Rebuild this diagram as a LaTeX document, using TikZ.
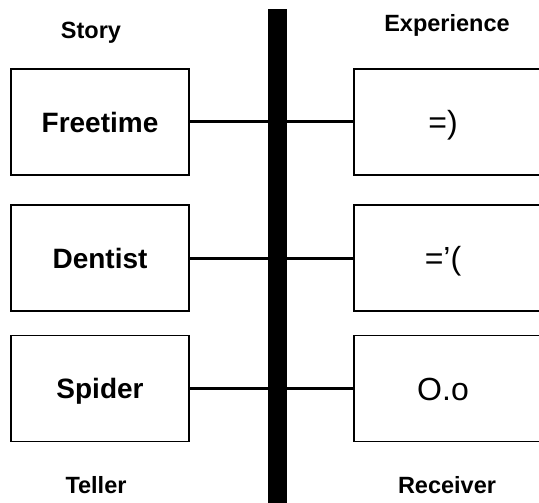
\documentclass[tikz,border=0pt]{standalone}
\usepackage{fontspec}
\setmainfont{Liberation Sans}
\begin{document}
\begin{tikzpicture}[x=1pt,y=-1pt,
  storybox/.style={draw=black,line width=1.5pt,minimum width=178pt,minimum height=106pt,
    inner sep=0pt,font=\fontsize{28}{30}\selectfont\bfseries,text height=20pt,text depth=0pt},
  expbox/.style={draw=black,line width=1.5pt,minimum width=191pt,minimum height=106pt,inner sep=0pt},
  exptext/.style={font=\fontsize{32}{36}\selectfont,inner sep=0pt,text height=23pt,text depth=0pt},
  heading/.style={font=\fontsize{23.5}{26}\selectfont\bfseries,anchor=base,inner sep=0pt},
  link/.style={line width=3pt}]
\useasboundingbox (0,0) rectangle (539,503);
\clip (0,0) rectangle (539,503);

% central divider
\fill[black] (268,9) rectangle (287,510);

% column headings
\node[heading] (story) at (91,39) {Story};
\node[heading] (experience) at (447,32) {Experience};
\node[heading] (teller) at (96,493) {Teller};
\node[heading] (receiver) at (447,493) {Receiver};

% stories on the left
\node[storybox] (s1) at (100,122) {Freetime};
\node[storybox] (s2) at (100,258) {Dentist};
\node[storybox] (s3) at (100,388.5) {Spider};

% experiences on the right (boxes run past the page edge)
\node[expbox] (e1) at (449.5,122) {};
\node[expbox] (e2) at (449.5,258) {};
\node[expbox] (e3) at (449.5,388.5) {};
\node[exptext] (t1) at (443,122) {=)};
\node[exptext] (t2) at (443,258) {=’(};
\node[exptext] (t3) at (443,388.5) {O.o};

% links across the divider
\draw[link] (s1.east) -- (e1.west);
\draw[link] (s2.east) -- (e2.west);
\draw[link] (s3.east) -- (e3.west);
\end{tikzpicture}
\end{document}
